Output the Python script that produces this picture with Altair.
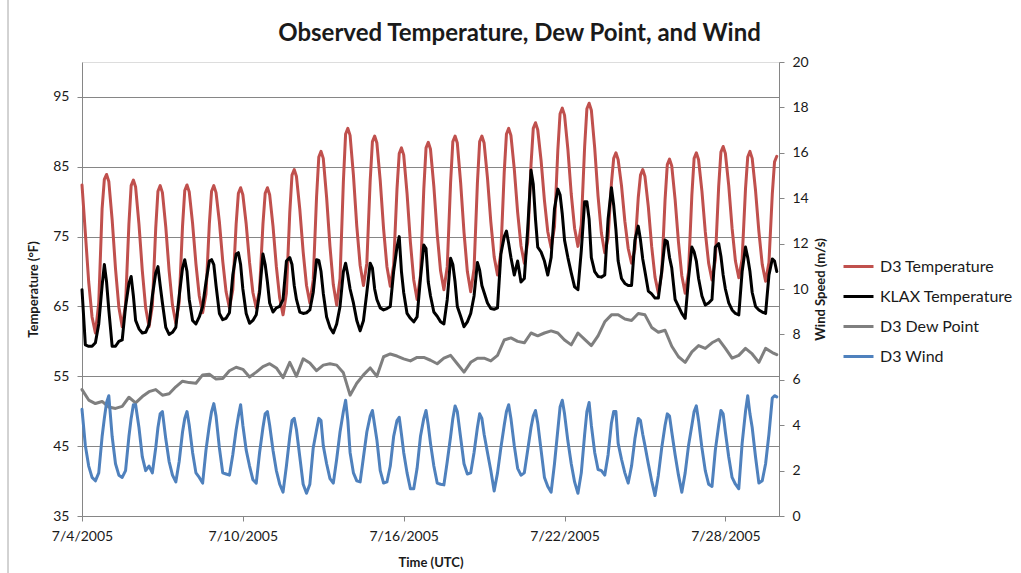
import altair as alt
import pandas as pd

HOURS = [0, 3, 6, 9, 12, 15, 18, 20, 22]

# D3 Temperature (°F), one row per day starting 7/4/2005
D3_TEMP = [
    [82.4, 75.5, 68.5, 63.5, 61.2, 65.5, 79.0, 83.2, 83.9],
    [82.9, 77.4, 70.4, 64.9, 62.1, 65.3, 76.8, 82.3, 83.1],
    [82.1, 76.8, 70.1, 64.8, 62.1, 65.1, 76.2, 81.5, 82.3],
    [81.3, 76.4, 70.1, 65.2, 62.6, 65.6, 76.5, 81.6, 82.4],
    [81.4, 76.9, 71.1, 66.5, 64.1, 66.8, 76.8, 81.5, 82.3],
    [81.3, 77.1, 71.5, 67.1, 64.8, 67.4, 76.8, 81.2, 82.0],
    [81.0, 76.8, 71.3, 67.0, 64.8, 67.4, 76.8, 81.2, 82.0],
    [81.0, 76.5, 70.7, 66.2, 63.8, 66.9, 78.4, 83.8, 84.6],
    [83.6, 78.9, 72.8, 68.0, 65.5, 68.8, 80.7, 86.4, 87.2],
    [86.2, 80.6, 73.6, 68.1, 65.2, 69.0, 82.9, 89.7, 90.5],
    [89.5, 83.8, 76.5, 70.9, 68.0, 71.2, 83.0, 88.6, 89.4],
    [88.4, 83.0, 76.1, 70.7, 67.9, 70.9, 81.8, 86.9, 87.7],
    [86.7, 81.2, 74.2, 68.8, 66.0, 69.4, 81.8, 87.7, 88.5],
    [87.5, 82.2, 75.4, 70.1, 67.4, 70.7, 82.8, 88.6, 89.4],
    [88.4, 82.7, 75.6, 70.0, 67.1, 70.4, 82.7, 88.6, 89.4],
    [88.4, 83.4, 77.1, 72.1, 69.5, 72.7, 84.2, 89.7, 90.5],
    [89.5, 84.7, 78.5, 73.7, 71.2, 74.2, 85.3, 90.5, 91.3],
    [90.3, 85.9, 80.2, 75.7, 73.4, 76.4, 87.4, 92.6, 93.4],
    [92.4, 87.5, 81.1, 76.2, 73.6, 76.7, 87.9, 93.3, 94.1],
    [93.1, 87.7, 80.8, 75.5, 72.7, 74.8, 82.7, 86.2, 87.0],
    [86.0, 82.3, 77.2, 73.3, 71.2, 73.2, 80.6, 83.8, 84.6],
    [83.6, 79.3, 73.6, 69.2, 66.9, 69.8, 80.3, 85.3, 86.1],
    [85.1, 80.3, 74.2, 69.4, 66.9, 69.9, 81.0, 86.2, 87.0],
    [86.0, 81.5, 75.7, 71.2, 68.8, 71.7, 82.2, 87.1, 87.9],
    [86.9, 82.3, 76.2, 71.5, 69.1, 71.8, 81.8, 86.4, 87.2],
    [86.2, 81.6, 75.7, 71.0, 68.6, 71.3, 81.1, 85.7, 86.5],
]

# KLAX Temperature (°F)
KLAX_TEMP = [
    [67.4, 59.5, 59.3, 59.3, 59.8, 62.5, 68.0, 71.0, 68.5],
    [64.5, 59.3, 59.3, 60.0, 60.2, 65.0, 68.3, 69.3, 66.5],
    [63.0, 61.8, 61.2, 61.3, 62.4, 66.5, 69.8, 70.7, 68.0],
    [65.5, 62.0, 61.0, 61.3, 62.0, 66.5, 70.5, 71.7, 70.0],
    [66.0, 63.0, 62.5, 63.5, 65.0, 68.5, 71.5, 71.7, 71.0],
    [68.0, 64.0, 63.1, 63.3, 64.1, 69.5, 72.5, 72.7, 71.0],
    [67.5, 64.0, 62.6, 63.0, 63.8, 67.0, 72.5, 71.0, 68.5],
    [65.5, 64.2, 64.8, 65.0, 66.0, 71.5, 72.0, 71.0, 68.0],
    [66.0, 64.2, 64.0, 64.1, 64.5, 67.0, 71.7, 71.6, 70.0],
    [66.9, 63.5, 62.0, 61.2, 62.5, 65.0, 70.0, 71.2, 69.5],
    [67.5, 65.5, 63.0, 61.5, 63.0, 67.0, 71.2, 70.5, 67.5],
    [66.0, 64.8, 64.5, 64.7, 65.0, 70.0, 73.5, 75.0, 70.0],
    [67.0, 64.0, 63.3, 62.8, 63.5, 69.0, 73.8, 73.3, 68.5],
    [66.5, 64.2, 63.6, 62.8, 62.5, 66.0, 71.9, 71.0, 68.5],
    [65.0, 63.6, 62.1, 62.8, 64.0, 66.5, 71.3, 70.2, 68.0],
    [67.0, 65.5, 64.7, 64.6, 64.8, 72.5, 75.0, 75.8, 74.0],
    [72.0, 69.5, 71.5, 68.5, 69.0, 76.0, 84.5, 82.5, 77.5],
    [73.5, 72.8, 71.5, 69.5, 72.0, 79.0, 81.8, 81.0, 78.2],
    [74.5, 72.0, 69.8, 67.8, 67.4, 73.0, 80.0, 80.0, 77.5],
    [72.0, 70.0, 69.3, 69.2, 69.5, 77.5, 82.0, 79.5, 76.0],
    [71.5, 69.0, 68.3, 68.0, 68.0, 74.5, 76.5, 74.5, 71.8],
    [70.0, 67.2, 66.8, 66.2, 66.2, 70.0, 74.5, 74.3, 72.0],
    [70.5, 66.0, 65.0, 64.0, 63.3, 69.0, 73.5, 72.8, 71.5],
    [69.0, 66.5, 65.2, 65.5, 66.0, 73.5, 74.0, 72.2, 69.5],
    [67.5, 65.5, 64.5, 64.0, 63.8, 70.0, 73.5, 72.0, 70.0],
    [67.0, 65.0, 64.5, 64.2, 64.0, 69.5, 71.8, 71.5, 70.0],
]

# D3 Wind (m/s)
D3_WIND = [
    [4.7, 3.1, 2.2, 1.7, 1.55, 1.9, 3.5, 4.3, 5.0],
    [5.3, 3.5, 2.3, 1.8, 1.7, 2.0, 3.5, 4.3, 4.9],
    [4.9, 3.9, 2.6, 2.0, 2.2, 1.9, 3.0, 3.9, 4.5],
    [4.6, 3.4, 2.4, 1.8, 1.5, 2.4, 3.7, 4.3, 4.6],
    [4.0, 2.8, 1.9, 1.7, 1.45, 2.9, 4.0, 4.6, 4.95],
    [4.4, 3.0, 1.9, 1.85, 1.8, 2.7, 3.8, 4.4, 4.9],
    [4.0, 2.9, 2.2, 1.6, 1.45, 2.8, 3.9, 4.5, 4.6],
    [4.0, 2.9, 2.0, 1.4, 1.05, 2.2, 3.5, 4.2, 4.3],
    [3.8, 2.6, 1.4, 1.0, 1.4, 3.0, 3.8, 4.3, 4.2],
    [3.1, 2.3, 1.65, 1.45, 2.5, 3.7, 4.6, 5.1, 4.2],
    [2.8, 1.9, 1.55, 1.5, 2.6, 3.7, 4.4, 4.65, 4.0],
    [3.35, 2.0, 1.45, 1.5, 2.2, 3.5, 4.2, 4.35, 3.6],
    [2.8, 1.9, 1.2, 1.2, 2.1, 3.5, 4.3, 4.65, 4.0],
    [3.2, 2.2, 1.45, 1.4, 1.37, 2.4, 3.5, 4.3, 4.85],
    [4.6, 3.45, 2.3, 1.85, 1.9, 2.8, 3.9, 4.5, 4.3],
    [3.6, 2.8, 2.0, 1.1, 1.9, 3.0, 4.0, 4.6, 4.9],
    [4.3, 3.1, 2.1, 1.8, 1.9, 2.9, 3.9, 4.4, 4.65],
    [4.1, 2.9, 1.7, 1.3, 1.05, 2.3, 3.8, 4.8, 5.1],
    [4.5, 3.3, 2.3, 1.5, 1.0, 1.9, 3.6, 4.6, 5.0],
    [4.0, 2.8, 2.05, 2.0, 1.8, 2.7, 4.1, 4.6, 4.6],
    [3.2, 2.5, 1.9, 1.45, 2.2, 3.4, 4.3, 4.2, 3.6],
    [3.1, 2.3, 1.55, 0.9, 1.8, 3.0, 4.0, 4.5, 4.4],
    [3.7, 2.7, 1.8, 1.05, 1.9, 3.1, 4.0, 4.6, 4.85],
    [4.2, 3.0, 2.0, 1.4, 1.3, 2.9, 4.0, 4.65, 4.5],
    [3.7, 2.6, 1.7, 1.4, 1.2, 3.2, 4.6, 5.3, 4.5],
    [3.9, 2.6, 1.45, 1.55, 2.3, 3.6, 5.2, 5.3, 5.25],
]

# D3 Dew Point (°F), read every 6 hours from 7/4 00 UTC (last point at the end of the record)
DEW_STEP_HOURS = 6
DEW_LAST_HOUR = 622
D3_DEW = [
    53.1, 51.6, 51.1, 51.4, 50.6, 50.4, 50.7, 52.0, 51.2, 52.1,
    52.8, 53.1, 52.3, 52.5, 53.5, 54.3, 54.1, 54.0, 55.2, 55.3,
    54.6, 54.7, 55.8, 56.3, 56.0, 54.9, 55.6, 56.4, 56.8, 56.2,
    54.8, 57.0, 55.0, 57.5, 56.9, 55.8, 56.6, 56.8, 56.6, 55.5,
    52.3, 54.0, 55.2, 56.2, 55.0, 57.8, 58.2, 57.9, 57.5, 57.2,
    57.7, 57.7, 57.3, 56.8, 57.6, 58.0, 56.8, 55.6, 57.0, 57.6,
    57.6, 57.2, 58.0, 60.2, 60.5, 60.0, 59.8, 61.2, 60.8, 61.2,
    61.5, 61.2, 60.2, 59.5, 61.2, 60.3, 59.4, 60.8, 62.8, 63.8,
    63.8, 63.2, 63.0, 64.0, 63.8, 62.0, 61.3, 61.6, 59.3, 57.8,
    57.0, 58.5, 59.4, 59.0, 59.8, 60.3, 59.0, 57.6, 58.0, 59.0,
    58.2, 57.0, 59.0, 58.4, 58.1,
]

SERIES = ["D3 Temperature", "KLAX Temperature", "D3 Dew Point", "D3 Wind"]
COLORS = ["#C0504D", "#000000", "#7F7F7F", "#4F81BD"]

TICK_DAYS = [0, 6, 12, 18, 24]
TICK_LABELS = ["7/4/2005", "7/10/2005", "7/16/2005", "7/22/2005", "7/28/2005"]
TEMP_TICKS = [35, 45, 55, 65, 75, 85, 95]
WIND_TICKS = [0, 2, 4, 6, 8, 10, 12, 14, 16, 18, 20]

rows = []


def add_daily(name, table):
    for k, vals in enumerate(table):
        for h, v in zip(HOURS, vals):
            rows.append({"day": k + h / 24.0, "value": v, "series": name})


add_daily(SERIES[0], D3_TEMP)
add_daily(SERIES[1], KLAX_TEMP)
for n, v in enumerate(D3_DEW):
    rows.append({"day": min(n * DEW_STEP_HOURS, DEW_LAST_HOUR) / 24.0,
                 "value": v, "series": SERIES[2]})
add_daily(SERIES[3], D3_WIND)

df = pd.DataFrame(rows)

FONT = "Lato"
AX_GRAY = "#868686"
TXT = "#1a1a1a"

label_expr = ""
for d, lab in zip(TICK_DAYS, TICK_LABELS):
    label_expr += f"datum.value == {d} ? '{lab}' : "
label_expr += "''"

x_enc = alt.X(
    "day:Q",
    scale=alt.Scale(domain=[0, 26], nice=False, zero=False),
    axis=alt.Axis(
        values=TICK_DAYS, labelExpr=label_expr, title="Time (UTC)", grid=False,
        domainColor=AX_GRAY, tickColor=AX_GRAY, tickSize=5, labelFlush=False,
        labelFont=FONT, labelFontSize=14, labelColor=TXT, labelPadding=8,
        titleFont=FONT, titleFontSize=13, titleFontWeight="bold", titleColor=TXT,
        titlePadding=13,
    ),
)

color_enc = alt.Color(
    "series:N",
    scale=alt.Scale(domain=SERIES, range=COLORS),
    legend=alt.Legend(
        title=None, orient="none", legendX=760, legendY=188,
        symbolType="stroke", symbolSize=900, symbolStrokeWidth=3,
        labelFont=FONT, labelFontSize=16, labelColor=TXT, labelOffset=5,
        rowPadding=5, labelLimit=300,
    ),
)


def temp_y():
    return alt.Y(
        "value:Q",
        scale=alt.Scale(domain=[35, 100], nice=False, zero=False),
        axis=alt.Axis(
            values=TEMP_TICKS, title="Temperature (°F)", grid=True,
            gridColor=AX_GRAY, gridWidth=1, domainColor=AX_GRAY, tickColor=AX_GRAY,
            tickSize=5, labelFlush=False, labelFont=FONT, labelFontSize=14,
            labelColor=TXT, labelPadding=8, titleFont=FONT, titleFontSize=13,
            titleFontWeight="bold", titleColor=TXT, titlePadding=12,
        ),
    )


def line_layer(name):
    return (
        alt.Chart(df)
        .transform_filter(alt.datum.series == name)
        .mark_line(strokeWidth=3, strokeJoin="round", strokeCap="round")
        .encode(x=x_enc, y=temp_y(), color=color_enc, order="day:Q")
    )


edge = (
    alt.Chart(pd.DataFrame({"edge": [0]}))
    .mark_rule(color="#A6A6A6", strokeWidth=1)
    .encode(x=alt.value(-74), y=alt.value(-62), y2=alt.value(511))
)

left = alt.layer(edge, line_layer(SERIES[0]), line_layer(SERIES[1]), line_layer(SERIES[2]))

right = (
    alt.Chart(df)
    .transform_filter(alt.datum.series == SERIES[3])
    .mark_line(strokeWidth=3, strokeJoin="round", strokeCap="round")
    .encode(
        x=x_enc,
        y=alt.Y(
            "value:Q",
            scale=alt.Scale(domain=[0, 20], nice=False, zero=False),
            axis=alt.Axis(
                orient="right", values=WIND_TICKS, title="Wind Speed (m/s)", grid=False,
                domainColor=AX_GRAY, tickColor=AX_GRAY, tickSize=5, labelFlush=False,
                labelFont=FONT, labelFontSize=14, labelColor=TXT, labelPadding=8,
                titleFont=FONT, titleFontSize=13, titleFontWeight="bold", titleColor=TXT,
                titleAngle=270, titleBaseline="top", titlePadding=6,
            ),
        ),
        color=color_enc,
        order="day:Q",
    )
)

chart = (
    alt.layer(left, right)
    .resolve_scale(y="independent")
    .properties(
        width=697,
        height=454,
        autosize=alt.AutoSizeParams(type="none"),
        padding={"left": 82, "top": 62, "right": 242, "bottom": 57},
        title=alt.TitleParams(
            "Observed Temperature, Dew Point, and Wind",
            font=FONT, fontSize=24, fontWeight="bold", color=TXT,
            anchor="middle", dx=89, offset=-46,
        ),
    )
    .configure_view(strokeWidth=0)
    .configure(background="white")
)

chart.save("out.html", embed_options={"renderer": "svg", "actions": False})
